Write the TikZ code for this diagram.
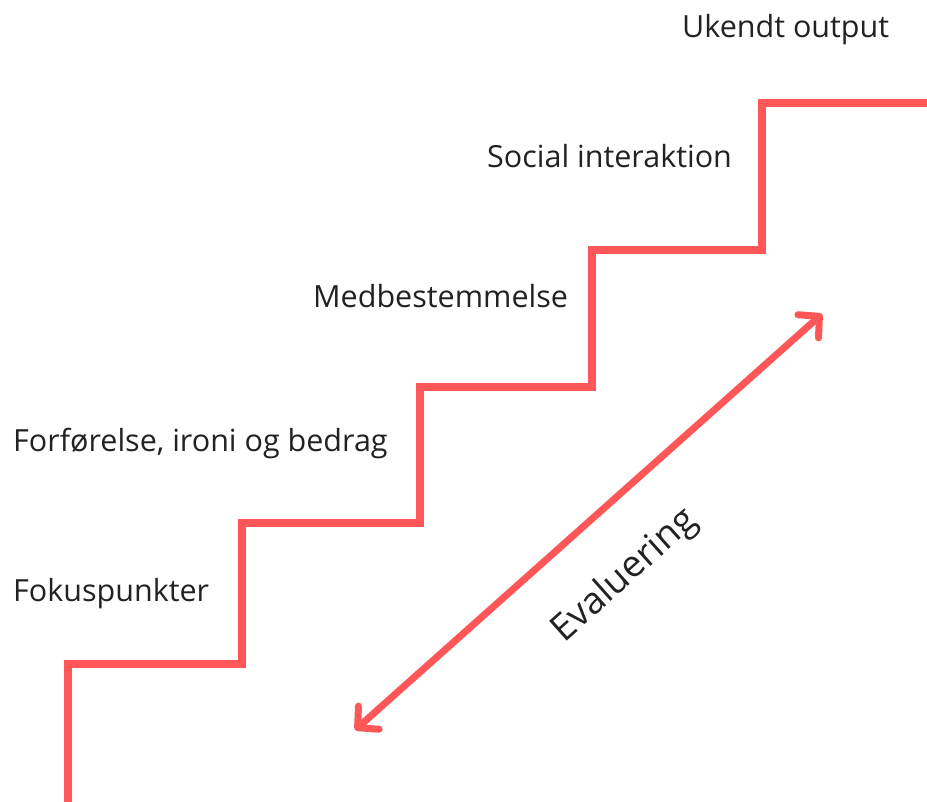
\documentclass[tikz,border=0pt]{standalone}
\usepackage{fontspec}
\setmainfont{Open Sans}
\usetikzlibrary{arrows.meta}
\definecolor{stairred}{HTML}{FF5757}
\definecolor{labelgrey}{HTML}{222222}

\begin{document}
\begin{tikzpicture}[x=1pt, y=-1pt,
    steplabel/.style={anchor=base west, inner sep=0pt, text=labelgrey, font=\fontsize{30.5}{36}\selectfont},
    stairline/.style={draw=stairred, line width=7.5pt, line join=miter}]
            \useasboundingbox (0, 0) rectangle (927, 802);
            % the stairs
            \draw[stairline] (68, 810) -- (68, 664) -- (242, 664) -- (242, 523)
                -- (420, 523) -- (420, 387) -- (592, 387) -- (592, 250)
                -- (762, 250) -- (762, 103) -- (935, 103);
            % step labels
            \node[steplabel] (fokus) at (13, 601) {Fokuspunkter};
            \node[steplabel] (forfoer) at (13, 451) {Forførelse, ironi og bedrag};
            \node[steplabel] (medbest) at (313, 308) {Medbestemmelse};
            \node[steplabel] (social) at (487, 168) {Social interaktion};
            \node[steplabel] (ukendt) at (682, 38) {Ukendt output};
            % evaluation arrow
            \coordinate (evallow) at (355, 730);
            \coordinate (evalhigh) at (822, 314);
            \draw[stairred, line width=7pt, line cap=round,
                {Straight Barb[length=15pt, width=31pt, line cap=round, line join=round]}-{Straight Barb[length=15pt, width=31pt, line cap=round, line join=round]}]
                (evallow) -- (evalhigh);
            \node[rotate=41.7, text=labelgrey, font=\fontsize{37}{42}\selectfont] (eval) at (625, 576) {Evaluering};
        \end{tikzpicture}
\end{document}
